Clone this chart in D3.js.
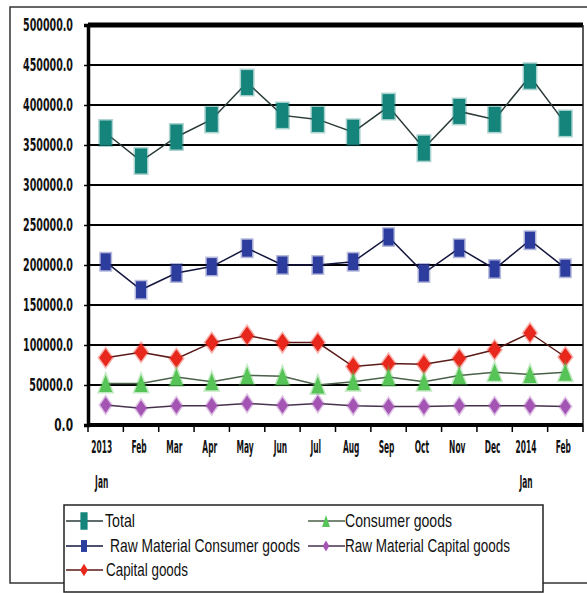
<!DOCTYPE html>
<html><head><meta charset="utf-8">
<script src="https://cdn.jsdelivr.net/npm/d3@7"></script>
<style>html,body{margin:0;padding:0;background:#fff;}svg{display:block;}</style>
</head><body>
<script>
const months = ["2013\nJan","Feb","Mar","Apr","May","Jun","Jul","Aug","Sep","Oct","Nov","Dec","2014\nJan","Feb"];
const yTicks = [0,50000,100000,150000,200000,250000,300000,350000,400000,450000,500000];
const total = [365000,330000,360000,382000,428000,387000,382000,366000,398000,346000,392000,382000,436000,377000];
const rawConsumer = [204000,169000,190000,198000,221000,200000,200000,204000,235000,190000,221000,195000,231000,196000];
const capital = [84000,91000,83000,103000,112000,103000,103000,73000,77000,76000,83000,94000,115000,85000];
const consumer = [52000,52000,60000,54000,62000,61000,50000,54000,60000,54000,62000,66000,63000,66000];
const rawCapital = [25000,21000,24000,24000,27000,24500,27000,24000,23000,23000,24000,24000,24000,23000];
const seriesNames = ["Total","Raw Material Consumer goods","Capital goods","Consumer goods","Raw Material Capital goods"];

const W=587,H=593;
const svg=d3.select("body").append("svg").attr("width",W).attr("height",H);
const NARROW="'Liberation Sans Narrow','DejaVu Sans Condensed','Arial Narrow',sans-serif";
const SANS="'Liberation Sans Narrow','Liberation Sans','DejaVu Sans Condensed',sans-serif";

// outer frame
svg.append("rect").attr("x",10).attr("y",7).attr("width",600).attr("height",576)
  .attr("fill","#fff").attr("stroke","#333").attr("stroke-width",1.5);

const L=88,R=583,T=25,B=425;
const x=d3.scaleBand().domain(d3.range(months.length)).range([L,R]);
const y=d3.scaleLinear().domain([0,500000]).range([B,T]);
const cx=i=>x(i)+x.bandwidth()/2;

// gridlines
svg.append("g").selectAll("line").data(yTicks.filter(v=>v>0)).join("line")
  .attr("x1",L).attr("x2",R).attr("y1",d=>y(d)).attr("y2",d=>y(d))
  .attr("stroke","#000").attr("stroke-width",d=>d===500000?5:2.2);
// right border
svg.append("line").attr("x1",R).attr("x2",R).attr("y1",T).attr("y2",B).attr("stroke","#222").attr("stroke-width",1.5);

// y axis
const fmt=d3.format(".1f");
const yAxis=d3.axisLeft(y).tickValues(yTicks).tickSize(4).tickFormat(d=>fmt(d));
const gy=svg.append("g").attr("transform",`translate(${L},0)`).call(yAxis);
gy.select(".domain").attr("stroke","#000").attr("stroke-width",3.5);
gy.selectAll(".tick line").attr("stroke","#000").attr("stroke-width",1.5);
gy.selectAll(".tick text").attr("x",0).attr("dy",null).attr("font-family",NARROW).attr("font-weight","bold")
  .attr("font-size",13).attr("fill","#111").attr("text-anchor","end")
  .attr("textLength",d=>fmt(d).length*6.25).attr("lengthAdjust","spacingAndGlyphs")
  .attr("transform","translate(-15,5)scale(1,1.3)");

// x axis
const gx=svg.append("g").attr("transform",`translate(0,${B})`);
gx.append("line").attr("x1",L-1).attr("x2",R).attr("stroke","#000").attr("stroke-width",4);
gx.selectAll("line.tk").data(d3.range(months.length+1)).join("line").attr("class","tk")
  .attr("x1",i=>L+i*x.bandwidth()).attr("x2",i=>L+i*x.bandwidth()).attr("y1",0).attr("y2",7)
  .attr("stroke","#000").attr("stroke-width",1.5);
months.forEach((m,i)=>{
  const parts=m.split("\n");
  parts.forEach((p,j)=>{
    gx.append("text").text(p)
      .attr("transform",`translate(${cx(i)-(parts.length>1?4:2)},${28+j*35})scale(0.64,1.35)`)
      .attr("text-anchor","middle").attr("font-family",NARROW).attr("font-weight","bold")
      .attr("font-size",13).attr("fill","#111");
  });
});

// series config
const series=[
  {name:seriesNames[0],vals:total,color:"#15857c",line:"#2b3b3a",shape:"rect",w:12,h:25},
  {name:seriesNames[1],vals:rawConsumer,color:"#2d3d9e",line:"#14163e",shape:"rect",w:10,h:17},
  {name:seriesNames[2],vals:capital,color:"#e8281c",line:"#5a1a18",shape:"diamond",w:13,h:18},
  {name:seriesNames[3],vals:consumer,color:"#56c456",line:"#4a604a",shape:"tri",w:13,h:17},
  {name:seriesNames[4],vals:rawCapital,color:"#a455b4",line:"#46324c",shape:"diamond",w:11,h:16}
];
function shapePath(s,w,h){
  if(s==="rect") return `M${-w/2},${-h/2}h${w}v${h}h${-w}Z`;
  if(s==="diamond") return `M0,${-h/2}L${w/2},0L0,${h/2}L${-w/2},0Z`;
  return `M0,${-h/2}L${w/2},${h/2}L${-w/2},${h/2}Z`;
}
const line=d3.line().x((d,i)=>cx(i)).y(d=>y(d));
series.forEach(s=>{
  svg.append("path").attr("d",line(s.vals)).attr("fill","none").attr("stroke",s.line).attr("stroke-width",1.5);
});
series.forEach(s=>{
  svg.append("g").selectAll("path").data(s.vals).join("path")
    .attr("transform",(d,i)=>`translate(${cx(i)},${y(d)})`)
    .attr("d",shapePath(s.shape,s.w,s.h)).attr("fill",s.color)
    .attr("stroke",s.color).attr("stroke-opacity",0.35).attr("stroke-width",3);
});

// legend
svg.append("rect").attr("x",64).attr("y",505).attr("width",479).attr("height",87)
  .attr("fill","#fff").attr("stroke","#222").attr("stroke-width",1.5);
const legendPos=[
  {lx:66,tx:105,y:521,tl:30},
  {lx:66,tx:110,y:546,tl:190},
  {lx:66,tx:106,y:570,tl:82},
  {lx:308,tx:345,y:521,tl:107},
  {lx:308,tx:345,y:546,tl:165}
];
series.forEach((s,k)=>{
  const p=legendPos[k];
  const g=svg.append("g");
  g.append("line").attr("x1",p.lx).attr("x2",p.lx+37).attr("y1",p.y).attr("y2",p.y).attr("stroke",s.line).attr("stroke-width",1.5);
  g.append("path").attr("transform",`translate(${p.lx+18},${p.y})`).attr("d",shapePath(s.shape,s.w*0.6,s.h*0.7)).attr("fill",s.color);
  g.append("text").text(s.name).attr("transform",`translate(${p.tx},${p.y+6})scale(1,1.25)`)
    .attr("font-family",SANS).attr("font-size",15).attr("fill","#111")
    .attr("textLength",p.tl).attr("lengthAdjust","spacingAndGlyphs");
});
</script>
</body></html>
